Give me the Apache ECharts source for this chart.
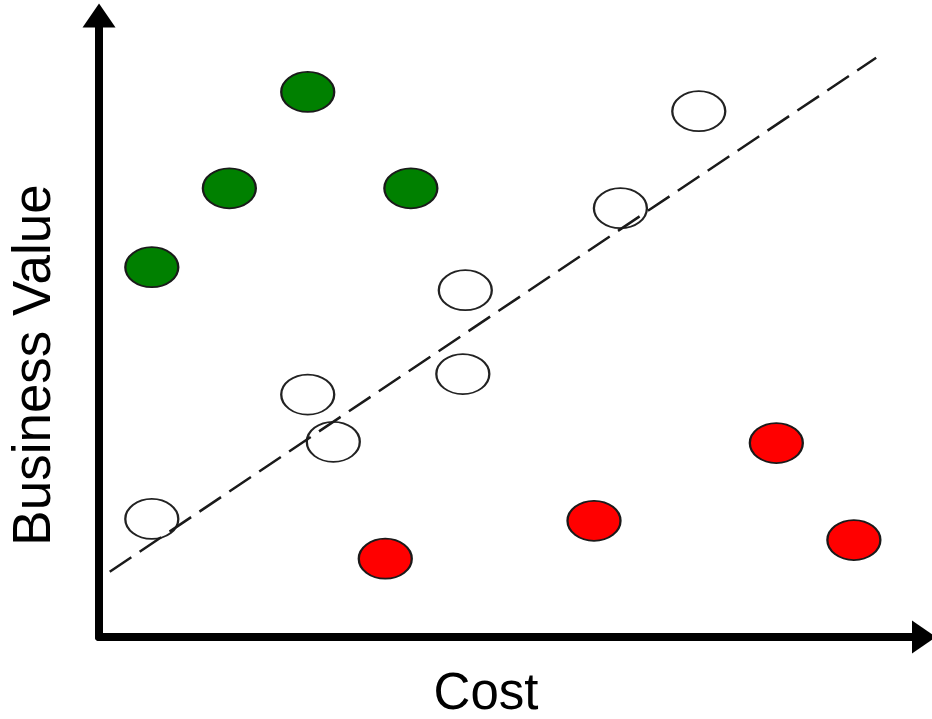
<!DOCTYPE html>
<html>
<head>
<meta charset="utf-8">
<script src="https://cdn.jsdelivr.net/npm/echarts@6/dist/echarts.min.js"></script>
<style>
html,body{margin:0;padding:0;background:#fff;}
#chart{width:932px;height:719px;}
</style>
</head>
<body>
<div id="chart"></div>
<script>
// Data (Cost on x, Business Value on y, arbitrary 0-100 units)
var greenPoints = [[25.3, 87.7], [15.8, 72.2], [37.8, 72.2], [6.4, 59.5]];
var whitePoints = [[72.7, 84.6], [63.2, 69.0], [44.4, 55.8], [25.3, 39.0], [28.4, 31.4], [44.1, 42.3], [6.4, 19.0]];
var redPoints = [[34.7, 12.6], [60.0, 18.7], [82.1, 31.2], [91.5, 15.6]];
var trendLine = [[1.3, 10.5], [94.2, 93.2]];
var xTitle = 'Cost';
var yTitle = 'Business Value';

var chart = echarts.init(document.getElementById('chart'), null, {renderer: 'canvas'});

var axisCommon = {
  type: 'value', min: 0, max: 100,
  axisTick: {show: false}, axisLabel: {show: false}, splitLine: {show: false},
  axisLine: {
    show: true, onZero: false,
    symbol: ['none', 'triangle'], symbolSize: [33, 24],
    lineStyle: {color: '#000', width: 8, cap: 'round'}
  }
};

function scatterSeries(name, data, fill, border) {
  return {
    name: name, type: 'scatter', data: data,
    symbol: 'circle', symbolSize: [53, 40],
    itemStyle: {color: fill, borderColor: border, borderWidth: 2, opacity: 1},
    z: 2, silent: true
  };
}

chart.setOption({
  animation: false,
  backgroundColor: '#fff',
  grid: {left: 99, right: 8, top: 15.5, bottom: 82},
  xAxis: axisCommon,
  yAxis: axisCommon,
  series: [
    scatterSeries('High value', greenPoints, '#008000', '#1a1a1a'),
    scatterSeries('Neutral', whitePoints, '#ffffff', '#222222'),
    scatterSeries('Low value', redPoints, '#ff0000', '#1a1a1a'),
    {
      name: 'Trend', type: 'line', data: trendLine, symbol: 'none',
      lineStyle: {color: '#1a1a1a', width: 2.5, type: [26, 10]},
      z: 5, silent: true
    }
  ],
  graphic: [
    {
      type: 'text', x: 486, y: 695,
      style: {text: xTitle, fontFamily: 'Liberation Sans, Arial, sans-serif', fontSize: 51,
        fill: '#000', align: 'center', verticalAlign: 'middle'}
    },
    {
      type: 'text', x: 35, y: 365, rotation: Math.PI / 2,
      style: {text: yTitle, fontFamily: 'Liberation Sans, Arial, sans-serif', fontSize: 53,
        fill: '#000', align: 'center', verticalAlign: 'middle'}
    }
  ]
});
</script>
</body>
</html>
